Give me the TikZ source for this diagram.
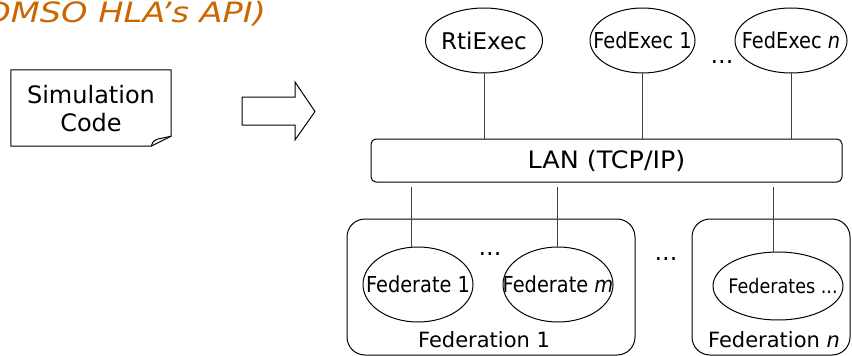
\documentclass[tikz,border=0pt]{standalone}
\usepackage{fontspec}
\setmainfont{DejaVu Sans}
\newfontfamily\narrowf[FakeStretch=0.88]{DejaVu Sans}
\newfontfamily\widef[FakeStretch=1.2]{DejaVu Sans}
\newfontfamily\lanf[FakeStretch=1.06]{DejaVu Sans}
\usetikzlibrary{shapes.geometric}
\definecolor{titleorange}{RGB}{204,102,0}
\definecolor{wire}{RGB}{64,64,64}
\newcommand\fsz[1]{\fontsize{#1}{#1}\selectfont}
\begin{document}
\begin{tikzpicture}[x=1pt,y=-1pt,
  shapeline/.style={draw=black, line width=1pt},
  wireline/.style={draw=wire, line width=1pt},
  oval/.style={shapeline, ellipse, inner sep=0pt, outer sep=0pt},
  roundbox/.style={shapeline, rectangle, inner sep=0pt, outer sep=0pt},
  txt/.style={inner sep=0pt, outer sep=0pt, text=black},
  dots/.style={txt, font=\fsz{24}}
]
\useasboundingbox (0,0) rectangle (852,356);

% title (cut at the left edge)
\node[txt, anchor=base east, text=titleorange, font=\widef\fsz{28}\itshape] (title) at (266,22) {DMSO HLA’s API)};

% simulation code document
\node[inner sep=0pt, minimum width=160, minimum height=76] (sim) at (91,108) {};
\draw[shapeline, line join=round] (sim.north west) -- (sim.north east) -- ([yshift=10]sim.south east) -- ([xshift=-20]sim.south east) -- (sim.south west) -- cycle;
\draw[shapeline, line join=round] ([xshift=-20]sim.south east) .. controls ([xshift=-18,yshift=5]sim.south east) .. ([xshift=-14,yshift=7]sim.south east) -- ([yshift=10]sim.south east);
\node[txt, align=center, font=\fontsize{24}{28}\selectfont] (simtext) at (91,108.5) {Simulation\\Code};

% block arrow
\draw[shapeline, line join=miter] (242,97) -- (295,97) -- (295,82) -- (315,111.5) -- (295,140) -- (295,125) -- (242,125) -- cycle;

% top executives
\node[oval, minimum width=117, minimum height=65, label={[txt, font=\fsz{23}]center:RtiExec}] (rti) at (484,40.5) {};
\node[oval, minimum width=105, minimum height=65, label={[txt, font=\narrowf\fsz{22}]center:FedExec 1}] (fe1) at (642.5,40.5) {};
\node[oval, minimum width=112, minimum height=65, label={[txt, font=\narrowf\fsz{22}]center:FedExec \textit{n}}] (fen) at (791,40.5) {};
\node[dots] (topdots) at (722,62) {...};

% LAN
\node[roundbox, rounded corners=5pt, minimum width=471, minimum height=43, font=\lanf\fsz{24}] (lan) at (606.5,160.5) {LAN (TCP/IP)};

\draw[wireline] (rti.south) -- (rti.south |- lan.north);
\draw[wireline] (fe1.south) -- (fe1.south |- lan.north);
\draw[wireline] (fen.south) -- (fen.south |- lan.north);

% federations
\node[roundbox, rounded corners=18pt, minimum width=288, minimum height=136] (fed1) at (491,287) {};
\node[roundbox, rounded corners=18pt, minimum width=158, minimum height=136] (fedn) at (771,287) {};
\node[txt, anchor=base, font=\fsz{21}] (fed1label) at (484,347) {Federation 1};
\node[txt, anchor=base, font=\fsz{21}] (fednlabel) at (774,347) {Federation \textit{n}};

\node[oval, minimum width=110, minimum height=75, label={[txt, font=\narrowf\fsz{22}]center:Federate 1}] (fa) at (418,284.5) {};
\node[oval, minimum width=110, minimum height=75, label={[txt, font=\narrowf\fsz{22}]center:Federate \textit{m}}] (fm) at (558,284.5) {};
\node[oval, minimum width=130, minimum height=68, label={[txt, font=\narrowf\fsz{20}, xshift=5pt]center:Federates ...}] (fs) at (778,286) {};
\node[dots] (fed1dots) at (490,254) {...};
\node[dots] (feddots) at (666,259) {...};

\coordinate (ca) at (411,187);
\coordinate (cm) at (557,187);
\coordinate (cs) at (773,187);
\draw[wireline] (ca) -- (ca |- fa.north);
\draw[wireline] (cm) -- (cm |- fm.north);
\draw[wireline] (cs) -- (cs |- fs.north);
\end{tikzpicture}
\end{document}
